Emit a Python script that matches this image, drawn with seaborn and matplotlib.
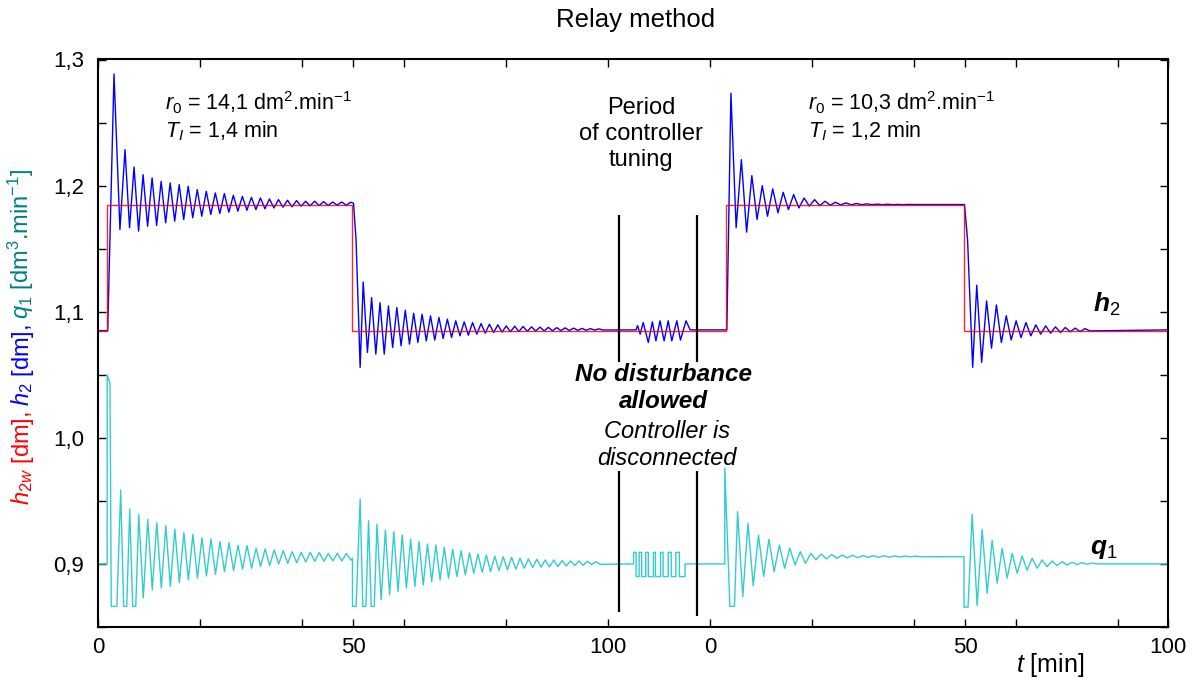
import numpy as np
import pandas as pd
import seaborn as sns
import matplotlib.pyplot as plt

# time on the plot in min; the second experiment is drawn from t = 120
T_END = 209.8
Q_FLOOR = 0.8665   # pump saturation of q1

# set point h2w: step times and levels
h2w_t = [0, 1.8, 1.8, 49.9, 49.9, 123.1, 123.1, 169.8, 169.8, T_END]
h2w_v = [1.085, 1.085, 1.185, 1.185, 1.085, 1.085, 1.185, 1.185, 1.085, 1.085]

# h2, first run (r0 = 14,1), step up
h2_a_lead_t = [0, 1.9, 3.14, 4.3]
h2_a_lead_v = [1.085, 1.085, 1.2885, 1.1652]
h2_a_first, h2_a_period = 5.3, 1.77
h2_a_peaks = [1.2285, 1.2148, 1.2087, 1.2061, 1.2034, 1.2021, 1.2008, 1.1995, 1.1968,
              1.1955, 1.1942, 1.1937, 1.1923, 1.1915, 1.1907, 1.1902, 1.1894, 1.1889,
              1.1884, 1.1881, 1.1876, 1.1876, 1.1873, 1.1870, 1.1870, 1.1868]
h2_a_troughs = [1.1666, 1.1639, 1.1678, 1.1684, 1.1705, 1.1718, 1.1731, 1.1745, 1.1757,
                1.1771, 1.1779, 1.1789, 1.1797, 1.1805, 1.1810, 1.1816, 1.1823, 1.1829,
                1.1832, 1.1837, 1.1840, 1.1842, 1.1842, 1.1845, 1.1845]

# h2, first run, step down
h2_b_lead_t = [50.1, 50.6, 51.4]
h2_b_lead_v = [1.186, 1.157, 1.0559]
h2_b_first, h2_b_period = 52.0, 1.65
h2_b_peaks = [1.1236, 1.1112, 1.1072, 1.1046, 1.1033, 1.1012, 1.0988, 1.0980, 1.0967,
              1.0954, 1.0941, 1.0928, 1.0920, 1.0914, 1.0906, 1.0901, 1.0896, 1.0888,
              1.0885, 1.0883, 1.0880, 1.0878, 1.0876, 1.0874, 1.0872, 1.0870, 1.0868,
              1.0866, 1.0864]
h2_b_troughs = [1.0677, 1.0664, 1.0664, 1.0717, 1.0730, 1.0743, 1.0756, 1.0769, 1.0775,
                1.0788, 1.0796, 1.0809, 1.0814, 1.0822, 1.0830, 1.0835, 1.0838, 1.0841,
                1.0843, 1.0845, 1.0847, 1.0848, 1.0849, 1.0850, 1.0851, 1.0852, 1.0853,
                1.0854, 1.0855]

# relay test (controller disconnected)
h2_r_t = [105.5, 105.8, 106.3, 106.9, 107.9, 108.7, 109.4, 110.2, 111.0, 111.8,
          112.5, 113.5, 114.2, 115.3, 116.1]
h2_r_v = [1.0856, 1.089, 1.0822, 1.0914, 1.0756, 1.092, 1.0769, 1.0928, 1.0769, 1.0928,
          1.0769, 1.0928, 1.0775, 1.0928, 1.0856]
relay_t = [105.0, 105.5, 106.1, 106.6, 107.4, 107.9, 108.9, 109.3, 110.3, 110.8,
           111.8, 112.4, 113.3, 114.0, 115.1]
relay_hi, relay_lo, relay_off = 0.9092, 0.8900, 0.9

# h2, second run (r0 = 10,3)
h2_c_lead_t = [123.3]
h2_c_lead_v = [1.0856]
h2_c_first, h2_c_period = 124.1, 2.05
h2_c_peaks = [1.2733, 1.2206, 1.2079, 1.2000, 1.1974, 1.1947, 1.1929, 1.1902, 1.1889,
              1.1876, 1.1868, 1.1863, 1.1858, 1.1855, 1.1853, 1.1852, 1.1851, 1.1851]
h2_c_troughs = [1.1666, 1.1631, 1.1731, 1.1757, 1.1784, 1.1810, 1.1823, 1.1837, 1.1842,
                1.1845, 1.1847, 1.1848, 1.1849, 1.1849, 1.1849, 1.1849, 1.1849, 1.1850]
h2_d_lead_t = [169.9, 170.5, 171.5]
h2_d_lead_v = [1.185, 1.157, 1.0559]
h2_d_first, h2_d_period = 172.3, 1.93
h2_d_peaks = [1.1210, 1.1086, 1.1054, 1.0968, 1.0928, 1.0914, 1.0896, 1.0888, 1.0880,
              1.0875, 1.0870, 1.0866]
h2_d_troughs = [1.0598, 1.0711, 1.0756, 1.0776, 1.0795, 1.0809, 1.0822, 1.0830, 1.0835,
                1.0841, 1.0843, 1.0848]

# q1
q1_a_lead_t = [0, 1.8, 1.8, 2.35, 2.6, 3.7]
q1_a_lead_v = [0.9, 0.9, 1.05, 1.043, 0.8663, 0.8663]
q1_a_first, q1_a_period = 4.45, 1.77
q1_a_peaks = [0.9585, 0.9435, 0.9393, 0.9353, 0.9327, 0.9303, 0.9277, 0.9248, 0.9235,
              0.9208, 0.9198, 0.9177, 0.9169, 0.9148, 0.9145, 0.9124, 0.9119, 0.9111,
              0.9106, 0.9097, 0.9092, 0.9092, 0.9090, 0.9084, 0.9084, 0.9084]
q1_a_troughs = [0.8663, 0.8663, 0.8729, 0.8794, 0.8808, 0.8821, 0.8852, 0.8874, 0.8887,
                0.8905, 0.8916, 0.8939, 0.8947, 0.8958, 0.8966, 0.8979, 0.8987, 0.9000,
                0.9005, 0.9010, 0.9016, 0.9021, 0.9021, 0.9024, 0.9024, 0.9030]
q1_b_lead_t = [49.9, 49.9, 50.6]
q1_b_lead_v = [0.9045, 0.8663, 0.8663]
q1_b_first, q1_b_period = 51.4, 1.65
q1_b_peaks = [0.9514, 0.9343, 0.9314, 0.9269, 0.9256, 0.9229, 0.9195, 0.9177, 0.9158,
              0.9150, 0.9132, 0.9116, 0.9105, 0.9089, 0.9079, 0.9071, 0.9063, 0.9058,
              0.9053, 0.9045, 0.9040, 0.9037, 0.9032, 0.9032, 0.9026, 0.9024, 0.9024,
              0.9021, 0.9018]
q1_b_troughs = [0.8663, 0.8663, 0.8715, 0.8755, 0.8781, 0.8808, 0.8821, 0.8834, 0.8860,
                0.8874, 0.8887, 0.8900, 0.8913, 0.8926, 0.8934, 0.8939, 0.8947, 0.8953,
                0.8958, 0.8966, 0.8971, 0.8974, 0.8976, 0.8979, 0.8984, 0.8987, 0.8989,
                0.8995, 0.8997]
q1_c_lead_t = [122.9, 122.9, 123.9, 124.8]
q1_c_lead_v = [0.9, 0.976, 0.8663, 0.8663]
q1_c_first, q1_c_period = 125.4, 2.05
q1_c_peaks = [0.9414, 0.9322, 0.9229, 0.9195, 0.9150, 0.9124, 0.9097, 0.9084, 0.9078,
              0.9074, 0.9071, 0.9069, 0.9067, 0.9066, 0.9065, 0.9064, 0.9063, 0.9062]
q1_c_troughs = [0.8742, 0.8826, 0.8900, 0.8939, 0.8966, 0.8992, 0.9005, 0.9032, 0.9040,
                0.9045, 0.9048, 0.9050, 0.9052, 0.9053, 0.9054, 0.9055, 0.9056, 0.9057]
q1_d_lead_t = [169.8, 169.8, 170.6]
q1_d_lead_v = [0.9058, 0.8658, 0.8658]
q1_d_first, q1_d_period = 171.4, 1.96
q1_d_peaks = [0.9393, 0.9274, 0.9185, 0.9124, 0.9084, 0.9063, 0.9045, 0.9032, 0.9024,
              0.9018, 0.9013, 0.9010, 0.9008]
q1_d_troughs = [0.8671, 0.8768, 0.8847, 0.8887, 0.8926, 0.8950, 0.8966, 0.8979, 0.8987,
                0.8992, 0.8995, 0.8997, 0.9000]

x_ticks = [0, 20, 40, 50, 60, 80, 100, 120, 140, 160, 170, 180, 200, T_END]
x_labels = ['0', '', '', '50', '', '', '100', '0', '', '', '50', '', '', '100']
y_ticks = [0.85, 0.9, 0.95, 1.0, 1.05, 1.1, 1.15, 1.2, 1.25, 1.3]
y_labels = ['', '0,9', '', '1,0', '', '1,1', '', '1,2', '', '1,3']


def osc(first, period, peaks, troughs):
    # peaks and troughs alternate half a period apart
    ts, vs = [], []
    for k, p in enumerate(peaks):
        ts.append(first + k * period)
        vs.append(p)
        if k < len(troughs):
            tt = first + (k + 0.5) * period
            q = troughs[k]
            if q <= Q_FLOOR:
                ts += [tt - 0.3, tt + 0.3]
                vs += [q, q]
            else:
                ts.append(tt)
                vs.append(q)
    return ts, vs


h2_t, h2_v = [], []
for part in [(h2_a_lead_t, h2_a_lead_v), osc(h2_a_first, h2_a_period, h2_a_peaks, h2_a_troughs),
             (h2_b_lead_t, h2_b_lead_v), osc(h2_b_first, h2_b_period, h2_b_peaks, h2_b_troughs),
             (h2_r_t, h2_r_v),
             (h2_c_lead_t, h2_c_lead_v), osc(h2_c_first, h2_c_period, h2_c_peaks, h2_c_troughs),
             (h2_d_lead_t, h2_d_lead_v), osc(h2_d_first, h2_d_period, h2_d_peaks, h2_d_troughs),
             ([T_END], [1.0856])]:
    h2_t += list(part[0])
    h2_v += list(part[1])

relay_pts_t, relay_pts_v = [], []
level = relay_off
for i, ts in enumerate(relay_t):
    new = relay_off if i == len(relay_t) - 1 else (relay_hi if i % 2 == 0 else relay_lo)
    relay_pts_t += [ts, ts]
    relay_pts_v += [level, new]
    level = new

q1_t, q1_v = [], []
for part in [(q1_a_lead_t, q1_a_lead_v), osc(q1_a_first, q1_a_period, q1_a_peaks, q1_a_troughs),
             (q1_b_lead_t, q1_b_lead_v), osc(q1_b_first, q1_b_period, q1_b_peaks, q1_b_troughs),
             (relay_pts_t, relay_pts_v),
             (q1_c_lead_t, q1_c_lead_v), osc(q1_c_first, q1_c_period, q1_c_peaks, q1_c_troughs),
             (q1_d_lead_t, q1_d_lead_v), osc(q1_d_first, q1_d_period, q1_d_peaks, q1_d_troughs),
             ([T_END], [0.9])]:
    q1_t += list(part[0])
    q1_v += list(part[1])

df_h2 = pd.DataFrame({'t': h2_t, 'v': h2_v})
df_q1 = pd.DataFrame({'t': q1_t, 'v': q1_v})
df_h2w = pd.DataFrame({'t': h2w_t, 'v': h2w_v})

sns.set_theme(style='ticks')
plt.rcParams['font.family'] = ['Liberation Sans', 'DejaVu Sans']
plt.rcParams['text.color'] = 'black'
plt.rcParams['axes.labelcolor'] = 'black'
plt.rcParams['xtick.color'] = 'black'
plt.rcParams['ytick.color'] = 'black'
plt.rcParams['mathtext.fontset'] = 'custom'
plt.rcParams['mathtext.rm'] = 'Liberation Sans'
plt.rcParams['mathtext.it'] = 'Liberation Sans:italic'
plt.rcParams['mathtext.bf'] = 'Liberation Sans:italic:bold'

fig = plt.figure(figsize=(11.92, 6.8), dpi=100)
ax = fig.add_axes([98 / 1192, 53 / 680, 1070 / 1192, 567.5 / 680])

sns.lineplot(data=df_q1, x='t', y='v', estimator=None, sort=False, color='#33CCCC', lw=1.0, ax=ax)
sns.lineplot(data=df_h2, x='t', y='v', estimator=None, sort=False, color='#0000FF', lw=1.0, ax=ax)
sns.lineplot(data=df_h2w, x='t', y='v', estimator=None, sort=False, color='#FF0000', lw=1.0,
             alpha=0.85, ax=ax)

# the period of controller tuning
ax.vlines([102.2, 117.5], 1.060, 1.177, color='black', lw=1.6)
ax.vlines([102.2], 0.862, 0.974, color='black', lw=1.6)
ax.vlines([117.5], 0.859, 0.974, color='black', lw=1.6)

ax.set_xlim(0, T_END)
ax.set_ylim(0.85, 1.3)
ax.set_xticks(x_ticks)
ax.set_xticklabels(x_labels)
ax.set_yticks(y_ticks)
ax.set_yticklabels(y_labels)
ax.tick_params(direction='in', top=True, right=True, length=6, width=1, labelsize=16,
               colors='black')
ax.tick_params(axis='y', pad=10)
ax.tick_params(axis='x', pad=7)
for s in ax.spines.values():
    s.set_linewidth(1.5)
    s.set_color('black')
ax.set_xlabel('$t$ [min]', fontsize=18)
ax.xaxis.set_label_coords(0.89, -0.042)
ax.set_ylabel('')

fig.text(636 / 1192, 1 - 20 / 680, 'Relay method', fontsize=18.5, ha='center', va='center')

ax.text(13.1, 1.2656, r'$r_0$ = 14,1 dm$^2$.min$^{-1}$', fontsize=15.5, va='center')
ax.text(13.1, 1.2435, r'$T_I$ = 1,4 min', fontsize=15.5, va='center')
ax.text(139.2, 1.2656, r'$r_0$ = 10,3 dm$^2$.min$^{-1}$', fontsize=15.5, va='center')
ax.text(139.2, 1.2435, r'$T_I$ = 1,2 min', fontsize=15.5, va='center')
ax.text(106.5, 1.2411, 'Period\nof controller\ntuning', fontsize=17, ha='center',
        va='center', linespacing=1.25)
ax.text(110.8, 1.0396, 'No disturbance\nallowed', fontsize=17.5, ha='center', va='center',
        fontweight='bold', fontstyle='italic', linespacing=1.2)
ax.text(111.6, 0.9945, 'Controller is\ndisconnected', fontsize=17, ha='center', va='center',
        fontstyle='italic', linespacing=1.2)
ax.text(195.1, 1.106, r'$\mathbf{h}_2$', fontsize=19, va='center')
ax.text(194.5, 0.9115, r'$\mathbf{q}_1$', fontsize=19, va='center')

# multi-coloured y label, built bottom to top
fig.canvas.draw()
renderer = fig.canvas.get_renderer()
pieces = [(r'$h_{2w}$ [dm],', '#FF0000'), (r'$h_2$ [dm],', '#0000FF'),
          (r'$q_1$ [dm$^3$.min$^{-1}$]', '#008080')]
y_px = 680 - 505
for txt, col in pieces:
    t = fig.text(29 / 1192, y_px / 680, txt, color=col, fontsize=17, rotation=90,
                 rotation_mode='anchor', ha='left', va='baseline')
    y_px += t.get_window_extent(renderer).height + 5

fig.savefig('out.png', dpi=100)
